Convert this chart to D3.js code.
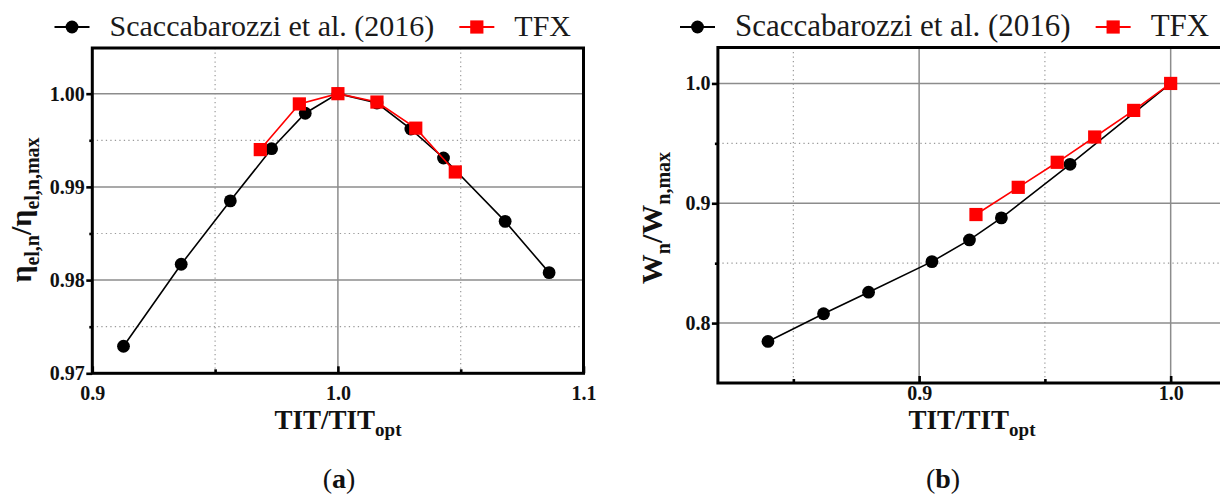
<!DOCTYPE html>
<html>
<head>
<meta charset="utf-8">
<script src="https://cdn.jsdelivr.net/npm/d3@7"></script>
<style>
  body { margin: 0; background: #fff; }
  svg { display: block; }
  svg text { font-family: "Liberation Serif", "Tinos", "Times New Roman", "DejaVu Serif", serif !important; }
</style>
</head>
<body>
<script>
// valori (a): rendimento elettrico normalizzato
const titRefA = [0.9127, 0.9362, 0.9562, 0.9730, 0.9867, 1.0, 1.0159, 1.0297, 1.0430, 1.0681, 1.0860];
const etaRefA = [0.9729, 0.9817, 0.9885, 0.9941, 0.9979, 1.0, 0.9990, 0.9962, 0.9931, 0.9863, 0.9808];
const titTfxA = [0.9684, 0.9843, 1.0, 1.0159, 1.0317, 1.0478];
const etaTfxA = [0.9940, 0.9989, 1.0, 0.9991, 0.9963, 0.9916];

// valori (b): potenza normalizzata
const titRefB = [0.8399, 0.8620, 0.8799, 0.9051, 0.9200, 0.9327, 0.9600, 1.0];
const wRefB = [0.7847, 0.8078, 0.8258, 0.8513, 0.8694, 0.8878, 0.9325, 1.0];
const titTfxB = [0.9226, 0.9394, 0.9549, 0.9698, 0.9853, 1.0];
const wTfxB = [0.8906, 0.9133, 0.9342, 0.9553, 0.9775, 1.0];

// tick
const xMajorA = [0.9, 1.0, 1.1];
const xMinorA = [0.95, 1.05];
const yMajorA = [0.97, 0.98, 0.99, 1.00];
const yMinorA = [0.975, 0.985, 0.995];
const xMajorB = [0.9, 1.0];
const xMinorB = [0.85, 0.95];
const yMajorB = [0.8, 0.9, 1.0];
const yMinorB = [0.85, 0.95];

const seriesNames = ["Scaccabarozzi et al. (2016)", "TFX"];

const width = 1220;
const height = 495;
const red = "#ff0000";
const serif = "'Liberation Serif', Tinos, 'Times New Roman', 'DejaVu Serif', serif";

const svg = d3.create("svg")
  .attr("width", width)
  .attr("height", height)
  .attr("font-family", serif);
document.body.appendChild(svg.node());

svg.append("rect").attr("width", width).attr("height", height).attr("fill", "#fff");

// scrive un testo con pedici (parts = [[testo, pedice?], ...])
function subText(sel, parts, big, small, shift) {
  const t = sel.append("text").attr("font-family", serif);
  let cur = 0;
  parts.forEach(([s, sub]) => {
    const target = sub ? shift : 0;
    t.append("tspan")
      .attr("dy", target - cur)
      .attr("font-size", sub ? small : big)
      .text(s);
    cur = target;
  });
  return t;
}

function drawPanel(p) {
  const x = d3.scaleLinear().domain(p.xDomain).range(p.xRange);
  const y = d3.scaleLinear().domain(p.yDomain).range(p.yRange);
  const g = svg.append("g");

  const [x0, x1] = x.range();
  const [y1, y0] = y.range();

  // griglia secondaria (puntinata)
  g.selectAll(".gx-min").data(p.xMinor).join("line")
    .attr("x1", d => x(d)).attr("x2", d => x(d))
    .attr("y1", y0).attr("y2", y1)
    .attr("stroke", "#9a9a9a").attr("stroke-width", 1.2).attr("stroke-dasharray", "1.3,3.2");
  g.selectAll(".gy-min").data(p.yMinor).join("line")
    .attr("x1", x0).attr("x2", x1)
    .attr("y1", d => y(d)).attr("y2", d => y(d))
    .attr("stroke", "#9a9a9a").attr("stroke-width", 1.2).attr("stroke-dasharray", "1.3,3.2");

  // griglia principale
  g.selectAll(".gx-maj").data(p.xMajor).join("line")
    .attr("x1", d => x(d)).attr("x2", d => x(d))
    .attr("y1", y0).attr("y2", y1)
    .attr("stroke", "#8c8c8c").attr("stroke-width", 1.5);
  g.selectAll(".gy-maj").data(p.yMajor).join("line")
    .attr("x1", x0).attr("x2", x1)
    .attr("y1", d => y(d)).attr("y2", d => y(d))
    .attr("stroke", "#8c8c8c").attr("stroke-width", 1.5);

  // assi: tick a sinistra verso l'esterno, in basso verso l'interno
  g.append("g")
    .attr("transform", `translate(${x0},0)`)
    .call(d3.axisLeft(y).tickValues(p.yMajor).tickFormat(d3.format(p.yFmt)).tickSize(6).tickPadding(1.5))
    .call(a => a.select(".domain").remove());
  g.append("g")
    .attr("transform", `translate(${x0},0)`)
    .call(d3.axisLeft(y).tickValues(p.yMinor).tickFormat("").tickSize(3))
    .call(a => a.select(".domain").remove());
  g.append("g")
    .attr("transform", `translate(0,${y1})`)
    .call(d3.axisBottom(x).tickValues(p.xMajor).tickFormat(d3.format(".1f")).tickSize(-7).tickPadding(p.xPad))
    .call(a => a.select(".domain").remove());
  g.append("g")
    .attr("transform", `translate(0,${y1})`)
    .call(d3.axisBottom(x).tickValues(p.xMinor).tickFormat("").tickSize(-4))
    .call(a => a.select(".domain").remove());

  g.selectAll("g").attr("font-family", serif);
  g.selectAll(".tick line").attr("stroke", "#000").attr("stroke-width", 2.6);
  g.selectAll(".tick text")
    .attr("font-family", serif)
    .attr("font-size", 20).attr("font-weight", "bold").attr("fill", "#111");

  // cornice
  g.append("rect")
    .attr("x", x0).attr("y", y0)
    .attr("width", x1 - x0).attr("height", y1 - y0)
    .attr("fill", "none").attr("stroke", "#000").attr("stroke-width", 3);

  // serie
  const ref = p.refX.map((v, i) => [v, p.refY[i]]);
  const tfx = p.tfxX.map((v, i) => [v, p.tfxY[i]]);
  const line = d3.line().x(d => x(d[0])).y(d => y(d[1]));

  g.append("path").datum(ref).attr("d", line)
    .attr("fill", "none").attr("stroke", "#000").attr("stroke-width", 1.6);
  g.selectAll(".ref").data(ref).join("circle")
    .attr("cx", d => x(d[0])).attr("cy", d => y(d[1])).attr("r", 6.4).attr("fill", "#000");

  g.append("path").datum(tfx).attr("d", line)
    .attr("fill", "none").attr("stroke", red).attr("stroke-width", 1.6);
  g.selectAll(".tfx").data(tfx).join("rect")
    .attr("x", d => x(d[0]) - 6.6).attr("y", d => y(d[1]) - 6.6)
    .attr("width", 13.2).attr("height", 13.2).attr("fill", red);

  // legenda
  const leg = g.append("g").attr("font-size", p.legendSize).attr("fill", "#1a1a1a").attr("font-family", serif);
  let lx = p.legendX;
  const ly = 27;
  seriesNames.forEach((name, i) => {
    const col = i === 0 ? "#000" : red;
    leg.append("line").attr("x1", lx).attr("x2", lx + 35).attr("y1", ly).attr("y2", ly)
      .attr("stroke", col).attr("stroke-width", 1.8);
    if (i === 0) {
      leg.append("circle").attr("cx", lx + 17.5).attr("cy", ly).attr("r", 6.4).attr("fill", col);
    } else {
      leg.append("rect").attr("x", lx + 17.5 - 6.6).attr("y", ly - 6.6)
        .attr("width", 13.2).attr("height", 13.2).attr("fill", col);
    }
    const t = leg.append("text").attr("x", lx + 55).attr("y", 36).text(name);
    lx += 55 + t.node().getComputedTextLength() + 25;
  });

  // etichetta asse x
  subText(g.append("g").attr("transform", `translate(${p.xLabelX},429)`),
    [["TIT/TIT", 0], ["opt", 1]], 27, 19, 7)
    .attr("text-anchor", "middle").attr("font-weight", "bold").attr("fill", "#111");

  // etichetta asse y
  subText(g.append("g").attr("transform", `translate(${p.yLabelX},${p.yLabelY}) rotate(-90)`),
    p.yLabel, 30, 20, 8)
    .attr("text-anchor", "middle").attr("font-weight", "bold").attr("fill", "#111");

  // lettera del pannello
  const cap = g.append("text").attr("x", p.capX).attr("y", 488)
    .attr("text-anchor", "middle").attr("font-size", 28).attr("fill", "#111")
    .attr("font-family", serif);
  cap.append("tspan").text("(");
  cap.append("tspan").attr("font-weight", "bold").text(p.letter);
  cap.append("tspan").text(")");
}

drawPanel({
  xDomain: [0.9, 1.1], xRange: [92.3, 583.5],
  yDomain: [0.97, 1.0049], yRange: [373.3, 48],
  xMajor: xMajorA, xMinor: xMinorA, yMajor: yMajorA, yMinor: yMinorA,
  yFmt: ".2f", xPad: 12.5,
  refX: titRefA, refY: etaRefA, tfxX: titTfxA, tfxY: etaTfxA,
  legendX: 54.5, legendSize: 30,
  xLabelX: 338, yLabelX: 31, yLabelY: 210,
  yLabel: [["η", 0], ["el,n", 1], ["/", 0], ["η", 0], ["el,n,max", 1]],
  capX: 339, letter: "a"
});

drawPanel({
  xDomain: [0.82, 1.022], xRange: [717.9, 1226],
  yDomain: [0.75, 1.03], yRange: [383, 47.5],
  xMajor: xMajorB, xMinor: xMinorB, yMajor: yMajorB, yMinor: yMinorB,
  yFmt: ".1f", xPad: 3,
  refX: titRefB, refY: wRefB, tfxX: titTfxB, tfxY: wTfxB,
  legendX: 680, legendSize: 31,
  xLabelX: 972, yLabelX: 662, yLabelY: 218,
  yLabel: [["W", 0], ["n", 1], ["/", 0], ["W", 0], ["n,max", 1]],
  capX: 943, letter: "b"
});
</script>
</body>
</html>
